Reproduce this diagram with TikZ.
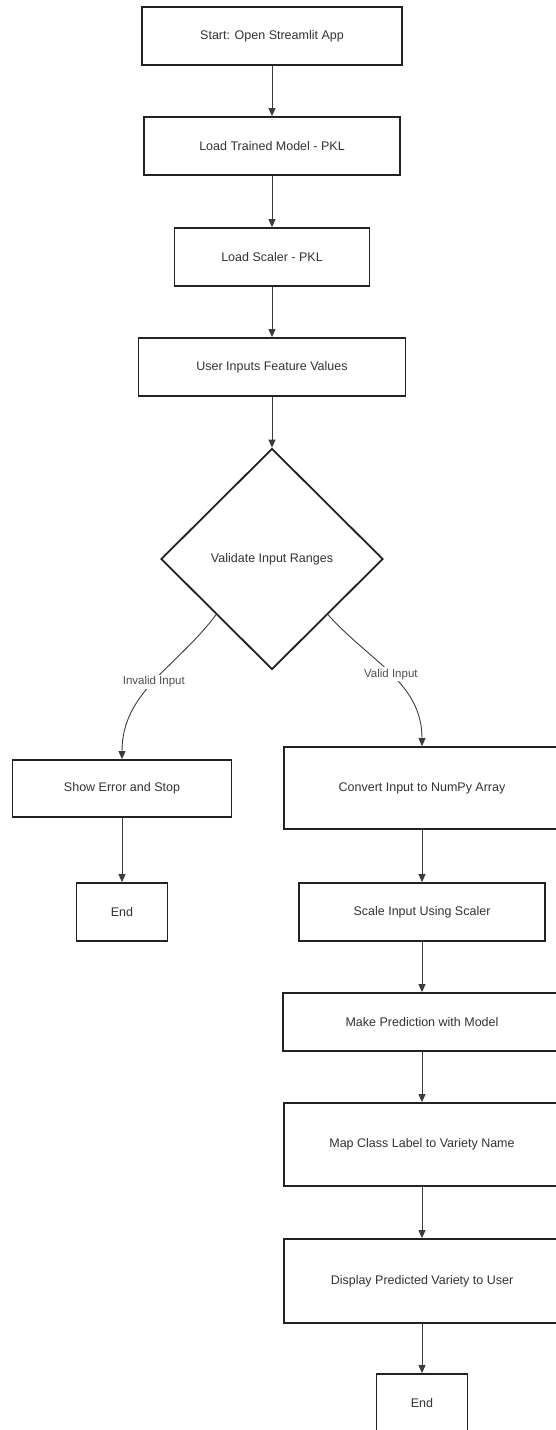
\documentclass[tikz,border=0pt]{standalone}
\usepackage{fontspec}
\setmainfont{Liberation Sans}
\usepackage{xcolor}
\usetikzlibrary{shapes.geometric,arrows.meta}
\definecolor{flowLine}{RGB}{34, 34, 34}
\definecolor{flowText}{RGB}{51, 51, 51}
\definecolor{flowEdge}{RGB}{60, 60, 60}
\definecolor{flowLabel}{RGB}{80, 80, 80}

\begin{document}
\begin{tikzpicture}[x=1pt, y=1pt,
  procbox/.style={draw=flowLine, line width=1.8pt, fill=white, text=flowText,
    font=\fontsize{12.5}{15}\selectfont, inner sep=0pt},
  decision/.style={diamond, draw=flowLine, line width=1.8pt, fill=white, text=flowText,
    font=\fontsize{12.5}{15}\selectfont, inner sep=0pt,
    minimum width=222pt, minimum height=221pt},
  flow/.style={draw=flowEdge, line width=0.9pt, -{Triangle[length=8pt, width=7pt]}},
  edgelabel/.style={fill=white, text=flowLabel, font=\fontsize{11.5}{14}\selectfont, inner sep=1.5pt}]
\useasboundingbox (0,0) rectangle (555,-1430);

% Main column
\node[procbox, minimum width=260pt, minimum height=58pt] (start) at (272,-36) {Start: Open Streamlit App};
\node[procbox, minimum width=256pt, minimum height=58pt] (model) at (272,-146) {Load Trained Model - PKL};
\node[procbox, minimum width=195pt, minimum height=58pt] (scaler) at (272,-257) {Load Scaler - PKL};
\node[procbox, minimum width=267pt, minimum height=58pt] (inputs) at (272,-367) {User Inputs Feature Values};
\node[decision] (validate) at (272,-559) {Validate Input Ranges};

% Invalid branch
\node[procbox, minimum width=219pt, minimum height=57pt] (error) at (122,-788.5) {Show Error and Stop};
\node[procbox, minimum width=91pt, minimum height=58pt] (endErr) at (122,-912) {End};

% Valid branch
\node[procbox, minimum width=276pt, minimum height=82pt] (convert) at (422,-788) {Convert Input to NumPy Array};
\node[procbox, minimum width=246pt, minimum height=58pt] (scale) at (422,-912) {Scale Input Using Scaler};
\node[procbox, minimum width=278pt, minimum height=58pt] (predict) at (422,-1022) {Make Prediction with Model};
\node[procbox, minimum width=276pt, minimum height=83pt] (mapname) at (422,-1144.5) {Map Class Label to Variety Name};
\node[procbox, minimum width=276pt, minimum height=84pt] (display) at (422,-1281) {Display Predicted Variety to User};
\node[procbox, minimum width=91pt, minimum height=58pt] (endOk) at (422,-1403) {End};

% Arrows
\draw[flow] (start) -- (model);
\draw[flow] (model) -- (scaler);
\draw[flow] (scaler) -- (inputs);
\draw[flow] (inputs) -- (validate);
\draw[flow] (validate.south west) to[out=233, in=90] node[edgelabel] (lblInvalid) {Invalid Input} (error.north);
\draw[flow] (validate.south east) to[out=-48, in=90] node[edgelabel] (lblValid) {Valid Input} (convert.north);
\draw[flow] (error) -- (endErr);
\draw[flow] (convert) -- (scale);
\draw[flow] (scale) -- (predict);
\draw[flow] (predict) -- (mapname);
\draw[flow] (mapname) -- (display);
\draw[flow] (display) -- (endOk);
\end{tikzpicture}
\end{document}
